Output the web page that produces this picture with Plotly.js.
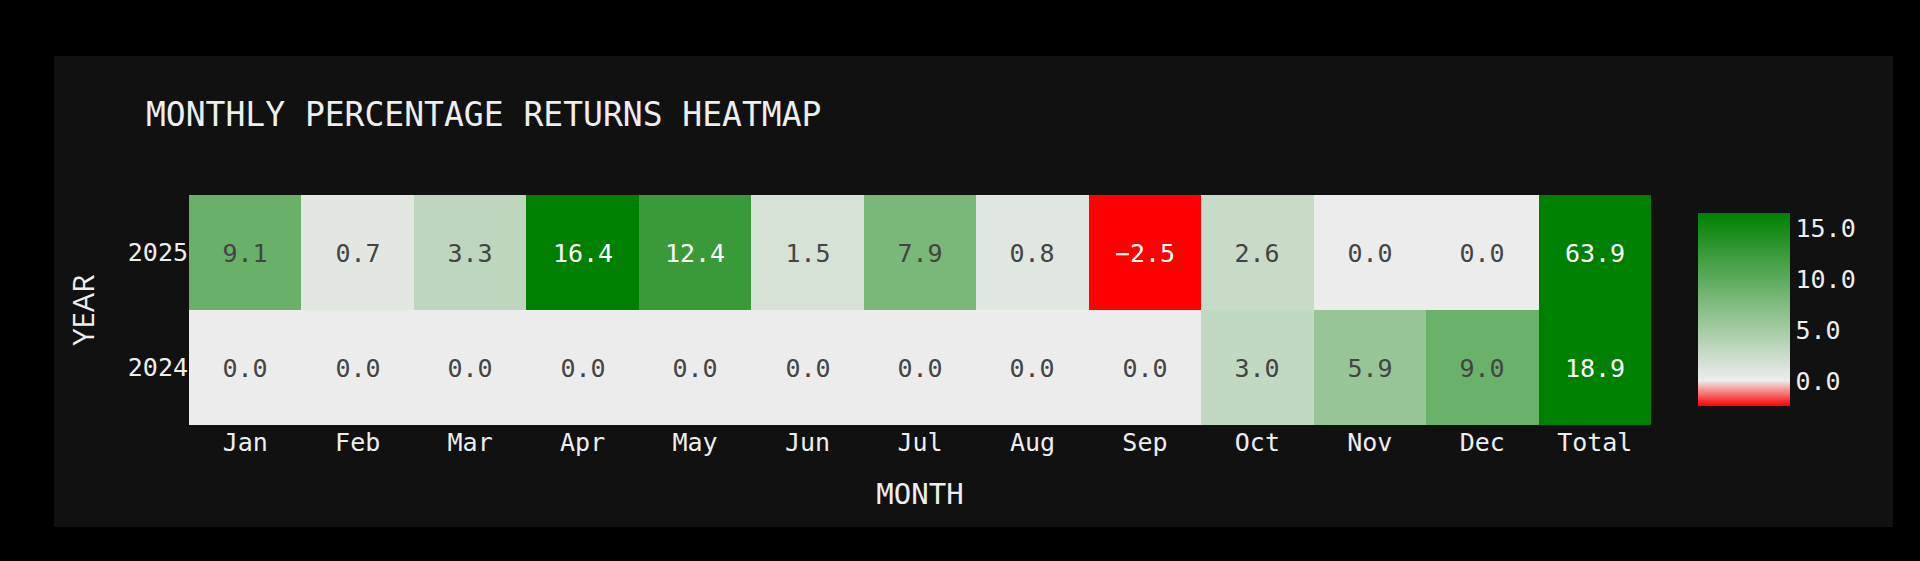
<!DOCTYPE html>
<html>
<head>
<meta charset="utf-8">
<script src="https://cdn.plot.ly/plotly-3.0.1.min.js"></script>
<style>
  html, body { margin: 0; padding: 0; background: #000000; width: 1920px; height: 561px; overflow: hidden; }
  #chart { position: absolute; left: 54px; top: 56px; width: 1839px; height: 471px; }
</style>
</head>
<body>
<div id="chart"></div>
<script>
const months = ['Jan','Feb','Mar','Apr','May','Jun','Jul','Aug','Sep','Oct','Nov','Dec','Total'];
const years = ['2024','2025'];
const returns2024 = [0.0, 0.0, 0.0, 0.0, 0.0, 0.0, 0.0, 0.0, 0.0, 3.0, 5.9, 9.0, 18.9];
const returns2025 = [9.1, 0.7, 3.3, 16.4, 12.4, 1.5, 7.9, 0.8, -2.5, 2.6, 0.0, 0.0, 63.9];
const colorMin = -2.5;
const colorMax = 16.4;
const colorbarTicks = [0, 5, 10, 15];

const zeroFrac = (0 - colorMin) / (colorMax - colorMin);
const mono = 'DejaVu Sans Mono, monospace';
const fmt = v => v.toFixed(1).replace('-', '\u2212');
const zRows = [returns2024, returns2025];
const textRows = zRows.map(r => r.map(fmt));

const trace = {
  type: 'heatmap',
  x: months,
  y: years,
  z: zRows,
  text: textRows,
  zmin: colorMin,
  zmax: colorMax,
  colorscale: [[0, '#ff0000'], [zeroFrac, '#ececec'], [1, '#008000']],
  texttemplate: '%{text}',
  textfont: { family: mono, size: 25 },
  hoverinfo: 'none',
  xgap: 0, ygap: 0,
  colorbar: {
    thickness: 92,
    lenmode: 'pixels',
    len: 193,
    y: 0.5,
    yanchor: 'middle',
    ypad: 0,
    x: 1.0321,
    xanchor: 'left',
    xpad: 0,
    outlinewidth: 0,
    tickvals: colorbarTicks,
    tickformat: '.1f',
    tickfont: { family: mono, size: 25, color: '#eeeeee' },
    ticks: ''
  }
};

const layout = {
  width: 1839,
  height: 471,
  paper_bgcolor: '#111111',
  plot_bgcolor: '#111111',
  margin: { l: 135, r: 242, t: 139, b: 102, pad: 0 },
  title: {
    text: 'MONTHLY PERCENTAGE RETURNS HEATMAP',
    font: { family: mono, size: 33, color: '#eeeeee' },
    x: 0.05, xanchor: 'left',
    xref: 'container', yref: 'container',
    y: 0.875, yanchor: 'middle'
  },
  xaxis: {
    type: 'category',
    title: { text: 'MONTH', font: { family: mono, size: 29, color: '#eeeeee' }, standoff: 27 },
    tickfont: { family: mono, size: 25, color: '#eeeeee' },
    showgrid: false, zeroline: false, showline: false, ticks: ''
  },
  yaxis: {
    type: 'category',
    title: { text: 'YEAR', font: { family: 'Open Sans, sans-serif', size: 30, color: '#eeeeee' }, standoff: 24 },
    tickfont: { family: mono, size: 25, color: '#eeeeee' },
    showgrid: false, zeroline: false, showline: false, ticks: ''
  },
  font: { color: '#eeeeee' }
};

Plotly.newPlot('chart', [trace], layout, { displayModeBar: false, staticPlot: true });
</script>
</body>
</html>
